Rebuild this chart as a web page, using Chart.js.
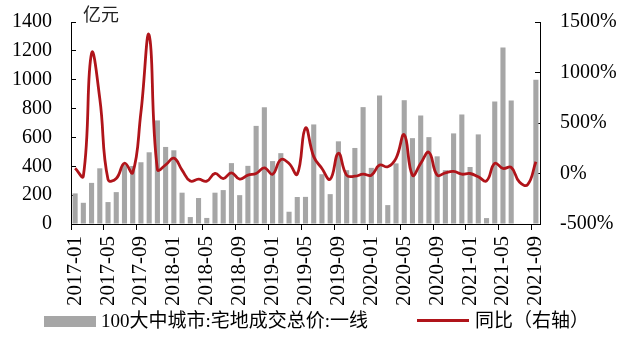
<!DOCTYPE html>
<html>
<head>
<meta charset="utf-8">
<script src="https://cdn.jsdelivr.net/npm/chart.js@4"></script>
<style>
  body { margin: 0; background: #fff; }
  #wrap { position: relative; width: 621px; height: 342px; }
  .leg { position: absolute; font: 19px "Liberation Serif", "Noto Sans CJK SC", serif; color: #000; line-height: 20px; }
</style>
</head>
<body>
<div id="wrap">
  <canvas id="chart" width="621" height="342"></canvas>
  <div style="position:absolute;left:44px;top:316px;width:52px;height:11px;background:#a6a6a6"></div>
  <div class="leg" style="left:101px;top:311px">100大中城市:宅地成交总价:一线</div>
  <div style="position:absolute;left:417px;top:319px;width:52px;height:3px;background:#b0141a"></div>
  <div class="leg" style="left:475px;top:311px">同比（右轴）</div>
</div>
<script>
// months 2017-01 .. 2021-09
const months = [];
for (let y = 2017; y <= 2021; y++) {
  for (let m = 1; m <= 12; m++) {
    if (y === 2021 && m > 9) break;
    months.push(y + "-" + String(m).padStart(2, "0"));
  }
}

// 宅地成交总价 (亿元)
const totalPrice = [
  212, 147, 285, 386, 152, 221, 410, 402, 428, 497, 718, 534,
  511, 217, 48, 180, 42, 217, 235, 422, 200, 403, 680, 809,
  436, 491, 85, 187, 188, 690, 345, 207, 573, 373, 527, 810,
  389, 890, 131, 420, 858, 595, 752, 602, 469, 373, 628, 759,
  395, 621, 41, 849, 1224, 856, null, null, 1000
];

// 同比 (%)
const yoy = [
  51, -26, 1190, 741, -60, -50, 102, 7, 607, 1370, 41, 85,
  152, 34, -75, -56, -76, 0, -50, 7, -56, -16, 0, 56,
  -7, 138, 99, -7, 450, 167, 50, -57, 200, -17, -27, -7,
  -17, 83, 67, 150, 383, -17, 100, 210, -17, 7, 20, -7,
  0, -33, -73, 100, 50, 60, -85, -110, 117
];

const leftTicks = [0, 200, 400, 600, 800, 1000, 1200, 1400];
const rightTicks = [-500, 0, 500, 1000, 1500];

const serif = '"Liberation Serif", "Times New Roman", serif';

const unitLabel = {
  id: "unitLabel",
  afterDraw(chart) {
    const c = chart.ctx;
    c.save();
    c.font = '18px "Noto Sans CJK SC", sans-serif';
    c.fillStyle = "#222";
    c.textBaseline = "middle";
    c.fillText("亿元", chart.chartArea.left + 12, 14);
    c.restore();
  }
};

// fixed axis width, and drop the label padding chart.js adds above/below
const fixY = (w) => (s) => {
  s.width = w;
  s.paddingTop = 0;
  s.paddingBottom = 0;
};

new Chart(document.getElementById("chart").getContext("2d"), {
  type: "bar",
  data: {
    labels: months,
    datasets: [
      {
        type: "line",
        label: "同比（右轴）",
        data: yoy,
        yAxisID: "y1",
        borderColor: "#b0141a",
        borderWidth: 2.8,
        pointRadius: 0,
        tension: 0.45,
        order: 0,
      },
      {
        label: "100大中城市:宅地成交总价:一线",
        data: totalPrice,
        yAxisID: "y",
        backgroundColor: "#a6a6a6",
        barPercentage: 0.62,
        categoryPercentage: 1,
        order: 1,
      },
    ],
  },
  options: {
    responsive: false,
    animation: false,
    layout: { padding: { top: 22 } },
    plugins: { legend: { display: false }, tooltip: { enabled: false } },
    scales: {
      x: {
        offset: true,
        grid: {
          offset: true,
          drawOnChartArea: false,
          tickLength: 6,
          color: (ctx) => (ctx.index % 4 === 0 ? "#000" : "rgba(0,0,0,0)"),
        },
        border: { color: "#000" },
        ticks: {
          autoSkip: false,
          minRotation: 90,
          maxRotation: 90,
          padding: 6,
          color: "#000",
          font: { family: serif, size: 21 },
          callback: (v, i) => (i % 4 === 0 ? months[i] : ""),
        },
        afterFit: (s) => { s.height = 118; },
      },
      y: {
        position: "left",
        min: 0,
        max: 1400,
        afterBuildTicks: (s) => { s.ticks = leftTicks.map((v) => ({ value: v })); },
        grid: { drawOnChartArea: false, tickLength: -5, color: "#000" },
        border: { color: "#000" },
        ticks: {
          autoSkip: false,
          padding: 24,
          color: "#000",
          font: { family: serif, size: 20 },
          callback: (v) => String(v),
        },
        afterFit: fixY(71),
      },
      y1: {
        position: "right",
        min: -500,
        max: 1500,
        afterBuildTicks: (s) => { s.ticks = rightTicks.map((v) => ({ value: v })); },
        grid: { drawOnChartArea: false, tickLength: -5, color: "#000" },
        border: { color: "#000" },
        ticks: {
          autoSkip: false,
          padding: 25,
          color: "#000",
          font: { family: serif, size: 20 },
          callback: (v) => v + "%",
        },
        afterFit: fixY(81),
      },
    },
  },
  plugins: [unitLabel],
});
</script>
</body>
</html>
